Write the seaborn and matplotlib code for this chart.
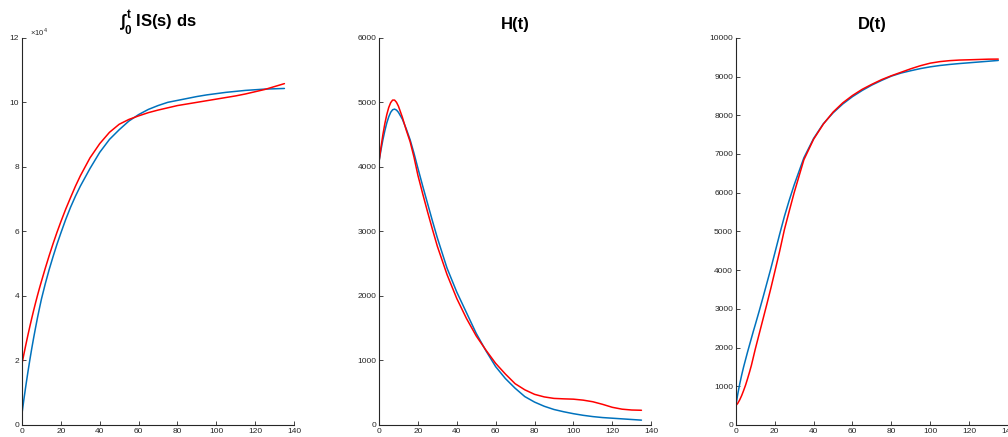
import numpy as np
import pandas as pd
import seaborn as sns
import matplotlib
matplotlib.use('Agg')
import matplotlib.pyplot as plt

# time grid (days)
t = [0, 1, 2, 3, 4, 5, 6, 7, 8, 9, 10, 12, 14, 16, 18, 20, 22.5, 25, 27.5, 30,
     35, 40, 45, 50, 55, 60, 65, 70, 75, 80, 85, 90, 95, 100, 105, 110, 115, 120,
     125, 130, 135]

# cumulative IS (x 10^4)
is_blue = [0.35, 0.8, 1.22, 1.62, 2.0, 2.36, 2.7, 3.02, 3.33, 3.62, 3.9, 4.38, 4.82, 5.22,
           5.6, 5.95, 6.37, 6.75, 7.09, 7.4,
           7.95, 8.45, 8.85, 9.15, 9.42, 9.62, 9.78, 9.9, 10.0, 10.06, 10.12, 10.18, 10.23,
           10.27, 10.31, 10.34, 10.37, 10.39, 10.41, 10.42, 10.43]
is_red = [1.9, 2.2, 2.49, 2.77, 3.04, 3.3, 3.55, 3.79, 4.02, 4.24, 4.45, 4.86, 5.25, 5.62,
          5.97, 6.3, 6.69, 7.05, 7.4, 7.72,
          8.28, 8.72, 9.07, 9.32, 9.47, 9.58, 9.68, 9.76, 9.83, 9.9, 9.95, 10.0, 10.05,
          10.1, 10.15, 10.2, 10.26, 10.33, 10.4, 10.49, 10.58]

# hospitalised
h_blue = [4080, 4260, 4420, 4560, 4680, 4775, 4845, 4885, 4895, 4880, 4845, 4740, 4590, 4420,
          4210, 3980, 3700, 3430, 3160, 2900,
          2430, 2060, 1740, 1420, 1150, 904, 720, 570, 440, 355, 290, 240, 205, 175, 150,
          130, 115, 105, 95, 85, 75]
h_red = [4080, 4300, 4500, 4670, 4810, 4920, 4995, 5035, 5035, 5000, 4940, 4770, 4570, 4390,
         4150, 3870, 3580, 3300, 3030, 2770,
         2330, 1960, 1650, 1380, 1160, 955, 790, 640, 545, 475, 435, 412, 405, 400, 385,
         360, 320, 274, 245, 232, 228]

# deaths
d_blue = [500, 800, 1060, 1290, 1500, 1690, 1880, 2060, 2240, 2420, 2590, 2940, 3300, 3670,
          4040, 4430, 4920, 5390, 5810, 6200,
          6900, 7400, 7780, 8060, 8290, 8480, 8640, 8780, 8900, 9010, 9090, 9150, 9205,
          9250, 9285, 9312, 9335, 9355, 9375, 9395, 9415]
d_red = [500, 560, 650, 760, 890, 1030, 1190, 1360, 1540, 1750, 1960, 2350, 2740, 3130,
         3530, 3950, 4480, 5050, 5530, 6000,
         6850, 7380, 7770, 8080, 8320, 8510, 8670, 8800, 8920, 9020, 9110, 9200, 9280,
         9345, 9385, 9410, 9425, 9432, 9440, 9448, 9450]

titles = [r"$\mathbf{\int_0^t}$ IS(s) ds", "H(t)", "D(t)"]
ylims = [(0, 12), (0, 6000), (0, 10000)]
ysteps = [2, 1000, 1000]

sns.set_theme(style="ticks")
plt.rcParams['font.family'] = ['Liberation Sans', 'DejaVu Sans']
plt.rcParams['mathtext.fontset'] = 'custom'
plt.rcParams['mathtext.rm'] = 'Liberation Sans'
plt.rcParams['mathtext.bf'] = 'Liberation Sans:bold'

fig = plt.figure(figsize=(10.08, 4.37), dpi=100)
lefts = [0.0218, 0.376, 0.730]
series = [(is_blue, is_red), (h_blue, h_red), (d_blue, d_red)]

for i in range(3):
    ax = fig.add_axes([lefts[i], 0.0275, 0.27, 0.886])
    blue, red = series[i]
    df = pd.DataFrame({'t': t, 'blue': blue, 'red': red})
    sns.lineplot(data=df, x='t', y='blue', color='#0072BD', lw=1.1, ax=ax)
    sns.lineplot(data=df, x='t', y='red', color='#FF0000', lw=1.1, ax=ax)
    ax.set_xlim(0, 140)
    ax.set_ylim(*ylims[i])
    ax.set_xticks(range(0, 141, 20))
    ax.set_yticks(np.arange(ylims[i][0], ylims[i][1] + 1, ysteps[i]))
    ax.set_xlabel('')
    ax.set_ylabel('')
    for s in ['top', 'right']:
        ax.spines[s].set_visible(False)
    for s in ['left', 'bottom']:
        ax.spines[s].set_color('#262626')
        ax.spines[s].set_linewidth(0.8)
    ax.tick_params(direction='in', length=3, width=0.6, labelsize=6,
                   colors='#262626', pad=2)
    ax.set_title(titles[i], fontsize=12, fontweight='bold', pad=6, color='black')

# exponent marker on first panel
fig.axes[0].text(0.03, 1.0, r"$\times10^4$", transform=fig.axes[0].transAxes,
                 fontsize=5.5, color='#262626', va='bottom', ha='left')

fig.savefig('out.png', dpi=100)
